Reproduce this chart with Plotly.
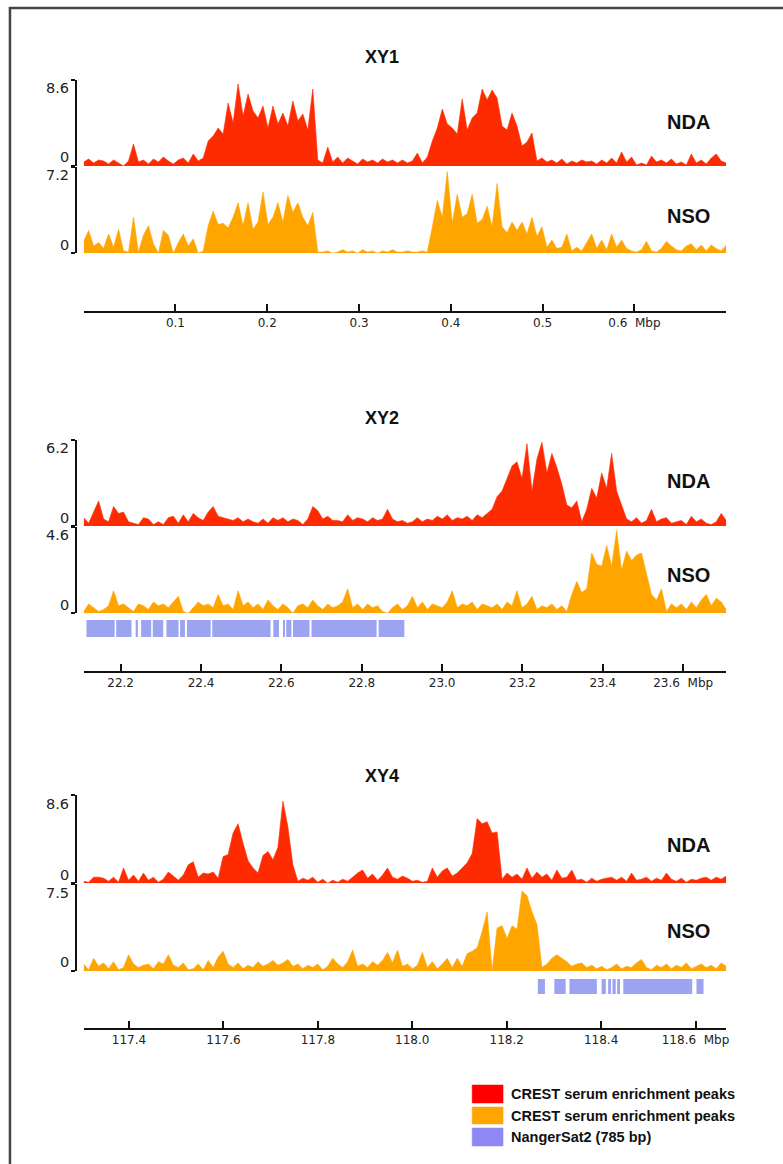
import numpy as np
import plotly.graph_objects as go

W, H = 783, 1164

# ---- genomic windows (Mbp) ----
xy1_range = [0.0, 0.700]
xy2_range = [22.108, 23.707]
xy4_range = [117.304, 118.665]

xy1_tickvals = [0.1, 0.2, 0.3, 0.4, 0.5, 0.6]
xy1_ticktext = ["0.1", "0.2", "0.3", "0.4", "0.5", "0.6\u00a0\u00a0Mbp"]
xy2_tickvals = [22.2, 22.4, 22.6, 22.8, 23.0, 23.2, 23.4, 23.6]
xy2_ticktext = ["22.2", "22.4", "22.6", "22.8", "23.0", "23.2", "23.4", "23.6\u00a0\u00a0Mbp"]
xy4_tickvals = [117.4, 117.6, 117.8, 118.0, 118.2, 118.4, 118.6]
xy4_ticktext = ["117.4", "117.6", "117.8", "118.0", "118.2", "118.4", "118.6\u00a0\u00a0Mbp"]

# track scale maxima
xy1_nda_max, xy1_nso_max = 8.6, 7.2
xy2_nda_max, xy2_nso_max = 6.2, 4.6
xy4_nda_max, xy4_nso_max = 8.6, 7.5

# ---- enrichment signal, evenly spaced bins across each window ----
xy1_nda = [0.4, 0.7, 0.3, 0.6, 0.5, 0.2, 0.6, 0.3, 0.0, 0.5,
           2.2, 0.4, 0.6, 0.2, 0.7, 0.4, 0.9, 0.5, 0.2, 0.6,
           0.8, 0.3, 1.2, 0.5, 0.8, 2.5, 3.0, 3.8, 3.2, 6.3,
           4.3, 8.2, 5.0, 7.2, 5.5, 4.8, 6.0, 3.8, 6.0, 4.2,
           5.3, 4.0, 6.5, 4.5, 5.2, 3.6, 7.7, 0.6, 0.3, 1.9,
           0.4, 0.9, 0.3, 0.8, 0.5, 0.2, 0.7, 0.4, 0.6, 0.3,
           0.7, 0.4, 0.6, 0.3, 0.6, 0.3, 0.5, 1.3, 0.3, 0.9,
           2.5, 3.8, 5.7, 4.2, 3.8, 3.2, 6.7, 3.6, 4.8, 5.3,
           7.7, 6.6, 7.6, 6.8, 4.0, 3.6, 5.3, 4.0, 2.0, 2.4,
           3.3, 0.5, 0.8, 0.4, 0.6, 0.3, 0.7, 0.2, 0.5, 0.3,
           0.6, 0.4, 0.5, 0.2, 0.6, 0.3, 0.8, 0.3, 1.4, 0.4,
           0.9, 0.1, 0.3, 0.1, 1.0, 0.4, 0.6, 0.3, 0.7, 0.2,
           0.4, 0.1, 1.2, 0.3, 0.6, 0.2, 0.8, 1.2, 0.5, 0.3]

xy1_nso = [1.0, 1.9, 0.6, 0.9, 0.4, 1.6, 0.5, 2.0, 0.2, 0.1,
           3.0, 0.1, 1.5, 2.3, 0.8, 0.0, 1.9, 1.5, 0.0, 0.9,
           1.6, 0.6, 1.2, 0.0, 0.2, 2.3, 3.5, 2.4, 2.5, 2.1,
           3.0, 4.2, 2.3, 4.2, 2.0, 2.6, 5.1, 2.4, 3.0, 4.2,
           2.6, 4.8, 3.4, 4.2, 3.0, 2.3, 3.4, 0.1, 0.1, 0.2,
           0.0, 0.1, 0.3, 0.1, 0.2, 0.0, 0.3, 0.1, 0.2, 0.0,
           0.2, 0.1, 0.3, 0.1, 0.1, 0.2, 0.1, 0.1, 0.2, 0.1,
           2.2, 4.4, 3.0, 6.8, 2.5, 4.9, 3.0, 3.3, 4.9, 2.5,
           2.8, 3.9, 2.2, 5.8, 2.2, 1.7, 2.6, 1.9, 2.6, 1.6,
           3.0, 1.4, 2.2, 0.5, 1.1, 0.4, 0.5, 1.6, 0.2, 0.5,
           0.2, 0.9, 1.6, 0.4, 1.1, 0.3, 1.6, 0.5, 1.1, 0.4,
           0.2, 0.1, 0.3, 1.0, 0.2, 0.1, 0.4, 1.0, 0.6, 0.3,
           0.2, 0.6, 0.8, 0.3, 0.7, 0.2, 0.7, 0.4, 0.2, 0.7]

xy2_nda = [0.6, 0.2, 1.0, 1.8, 0.5, 0.3, 1.4, 0.9, 1.0, 0.3,
           0.2, 0.1, 0.6, 0.5, 0.1, 0.3, 0.1, 0.6, 0.7, 0.2,
           0.8, 0.3, 0.9, 0.6, 0.4, 1.0, 1.4, 0.7, 0.6, 0.5,
           0.4, 0.6, 0.3, 0.5, 0.3, 0.2, 0.5, 0.2, 0.6, 0.4,
           0.6, 0.3, 0.5, 0.4, 0.1, 0.5, 1.4, 1.1, 0.5, 0.7,
           0.4, 0.4, 0.3, 0.8, 0.4, 0.6, 0.5, 0.3, 0.6, 0.4,
           0.5, 1.2, 0.5, 0.3, 0.4, 0.2, 0.3, 0.6, 0.3, 0.5,
           0.4, 0.7, 0.5, 0.8, 0.4, 0.6, 0.5, 0.7, 0.4, 0.8,
           0.6, 0.9, 1.2, 2.1, 2.5, 3.4, 4.3, 4.6, 3.4, 5.9,
           2.5, 4.8, 6.0, 3.8, 5.2, 4.2, 3.0, 1.5, 1.3, 1.8,
           0.3, 1.2, 2.7, 2.0, 3.8, 2.7, 5.2, 2.5, 1.5, 0.5,
           0.3, 0.6, 0.2, 0.4, 1.2, 0.3, 0.5, 0.6, 0.2, 0.3,
           0.4, 0.1, 0.7, 0.3, 0.5, 0.2, 0.1, 0.3, 0.9, 0.4]

xy2_nso = [0.1, 0.5, 0.3, 0.1, 0.2, 0.4, 1.2, 0.4, 0.5, 0.3,
           0.1, 0.5, 0.4, 0.2, 0.6, 0.4, 0.5, 0.3, 0.6, 0.9,
           0.1, 0.0, 0.3, 0.6, 0.4, 0.5, 0.3, 1.0, 0.4, 0.5,
           0.2, 1.2, 0.4, 0.6, 0.3, 0.5, 0.2, 0.7, 0.4, 0.2,
           0.5, 0.3, 0.0, 0.4, 0.5, 0.3, 0.7, 0.4, 0.2, 0.5,
           0.3, 0.4, 0.6, 1.3, 0.3, 0.5, 0.2, 0.5, 0.3, 0.4,
           0.1, 0.0, 0.3, 0.5, 0.2, 0.4, 0.9, 0.3, 0.6, 0.2,
           0.5, 0.4, 0.3, 0.6, 1.2, 0.3, 0.5, 0.4, 0.6, 0.2,
           0.5, 0.4, 0.3, 0.5, 0.2, 0.6, 0.4, 1.2, 0.3, 0.5,
           0.9, 0.2, 0.4, 0.3, 0.5, 0.2, 0.4, 0.1, 1.0, 1.7,
           1.1, 1.3, 3.2, 2.6, 2.5, 3.6, 2.5, 4.4, 2.3, 3.3,
           2.8, 3.1, 3.2, 2.1, 1.0, 0.7, 1.3, 0.1, 0.5, 0.3,
           0.5, 0.2, 0.6, 0.3, 0.7, 1.0, 0.4, 0.8, 0.6, 0.2]

xy4_nda = [0.2, 0.1, 0.6, 0.6, 0.5, 0.2, 0.6, 0.1, 1.5, 0.3,
           0.8, 0.2, 1.0, 0.3, 0.6, 0.1, 0.4, 1.1, 0.7, 0.3,
           0.8, 1.8, 2.1, 0.6, 1.0, 0.9, 1.1, 0.5, 2.6, 2.8,
           4.9, 5.8, 3.9, 2.2, 1.5, 1.0, 2.7, 3.1, 2.3, 3.5,
           8.0, 5.5, 1.8, 0.2, 0.5, 0.3, 0.6, 0.1, 0.4, 0.0,
           0.3, 0.1, 0.4, 0.2, 0.6, 1.0, 1.3, 0.5, 0.9, 0.3,
           0.8, 1.5, 0.6, 0.4, 0.7, 0.5, 0.2, 0.3, 0.1, 0.2,
           1.5, 0.6, 1.2, 1.5, 0.7, 1.0, 1.5, 2.0, 2.9, 6.3,
           5.8, 6.0, 4.9, 5.0, 0.4, 1.0, 0.6, 0.9, 0.4, 1.5,
           0.5, 1.1, 0.6, 0.9, 0.3, 1.3, 0.5, 0.6, 1.3, 0.3,
           0.4, 0.1, 0.5, 0.2, 0.4, 0.5, 0.6, 0.3, 0.6, 0.2,
           1.0, 0.3, 0.4, 0.6, 0.2, 0.5, 0.3, 1.0, 0.4, 0.2,
           0.5, 0.1, 0.4, 0.3, 0.5, 0.6, 0.3, 0.6, 0.4, 0.7]

xy4_nso = [0.6, 0.1, 1.1, 0.4, 0.7, 0.2, 0.8, 0.1, 0.3, 1.4,
           0.6, 0.3, 0.5, 0.6, 0.2, 0.8, 0.6, 1.4, 0.5, 0.3,
           0.7, 0.1, 0.2, 0.6, 0.1, 0.9, 0.3, 1.2, 1.7, 0.6,
           0.3, 0.7, 0.2, 0.5, 0.3, 0.8, 0.4, 0.6, 0.9, 0.5,
           0.7, 1.0, 0.4, 0.6, 0.2, 0.5, 0.3, 0.6, 0.1, 0.4,
           1.1, 0.6, 0.3, 0.8, 1.8, 0.4, 0.6, 0.3, 0.8, 0.5,
           0.9, 1.6, 0.7, 1.8, 0.4, 0.6, 0.2, 0.5, 1.6, 0.3,
           0.8, 0.2, 0.6, 1.1, 0.3, 1.1, 0.4, 1.5, 1.7, 2.0,
           3.4, 5.1, 0.0, 3.7, 3.9, 2.8, 3.9, 3.6, 6.9, 6.5,
           5.1, 4.0, 0.3, 0.6, 1.1, 1.4, 1.1, 0.8, 0.4, 0.6,
           0.7, 0.3, 0.5, 0.2, 0.4, 0.1, 0.3, 0.6, 0.2, 0.4,
           0.3, 0.7, 1.0, 0.3, 0.1, 0.5, 0.3, 0.6, 0.2, 0.5,
           0.3, 0.7, 0.2, 0.4, 0.6, 0.3, 0.5, 0.2, 0.7, 0.4]

# ---- NangerSat2 repeat blocks (Mbp) ----
xy2_sat_start = [22.115, 22.189, 22.239, 22.251, 22.280, 22.314, 22.348, 22.365,
                 22.428, 22.580, 22.604, 22.612, 22.629, 22.675, 22.842]
xy2_sat_end = [22.185, 22.227, 22.243, 22.276, 22.306, 22.344, 22.360, 22.424,
               22.573, 22.594, 22.609, 22.625, 22.670, 22.837, 22.906]
xy4_sat_start = [118.266, 118.301, 118.333, 118.401, 118.415, 118.424, 118.434,
                 118.447, 118.589, 118.602]
xy4_sat_end = [118.281, 118.325, 118.391, 118.410, 118.421, 118.431, 118.440,
               118.588, 118.593, 118.617]

panel_titles = ["XY1", "XY2", "XY4"]
track_names = ["NDA", "NSO"]
legend_labels = ["CREST serum enrichment peaks", "CREST serum enrichment peaks",
                 "NangerSat2 (785 bp)"]

NDA_COLOR = "#ff2b00"
NSO_COLOR = "#ffa500"
SAT_COLOR = "#9ca3f0"
LEGEND_COLORS = ["#ff0000", "#ffa500", "#8f88f4"]

TRACK_X0, TRACK_X1 = 84, 729
BRACKET_X = 76
LABEL_INSET = 8.5


def px(x):
    return x / W


def py(y):
    return 1 - y / H


def dom(top, bottom):
    return [py(bottom), py(top)]


fig = go.Figure()
layout = dict(
    width=W, height=H,
    margin=dict(l=0, r=0, t=0, b=0),
    paper_bgcolor="white", plot_bgcolor="white",
    showlegend=False, barmode="overlay",
)

panels = [
    dict(rng=xy1_range, tv=xy1_tickvals, tt=xy1_ticktext, axis_y=312,
         title_y=57,
         tracks=[(xy1_nda, xy1_nda_max, 80, 166, NDA_COLOR),
                 (xy1_nso, xy1_nso_max, 166.7, 253.3, NSO_COLOR)],
         name_y=[122.5, 215.5], sat=None),
    dict(rng=xy2_range, tv=xy2_tickvals, tt=xy2_ticktext, axis_y=671.7,
         title_y=418,
         tracks=[(xy2_nda, xy2_nda_max, 439.5, 526, NDA_COLOR),
                 (xy2_nso, xy2_nso_max, 526.7, 613.3, NSO_COLOR)],
         name_y=[481, 574.5], sat=(xy2_sat_start, xy2_sat_end, 620, 637)),
    dict(rng=xy4_range, tv=xy4_tickvals, tt=xy4_ticktext, axis_y=1029,
         title_y=776,
         tracks=[(xy4_nda, xy4_nda_max, 795, 883.3, NDA_COLOR),
                 (xy4_nso, xy4_nso_max, 884, 971, NSO_COLOR)],
         name_y=[845, 931], sat=(xy4_sat_start, xy4_sat_end, 979, 994)),
]

annotations = []
shapes = []
yi = 0
for pi, p in enumerate(panels):
    xname = "x" if pi == 0 else f"x{pi + 1}"
    xkey = "xaxis" if pi == 0 else f"xaxis{pi + 1}"
    layout[xkey] = dict(
        domain=[px(TRACK_X0), px(TRACK_X1)], range=p["rng"],
        anchor="free", position=py(p["axis_y"]),
        showline=True, linecolor="#111", linewidth=2,
        ticks="inside", ticklen=7, tickwidth=1.5, tickcolor="#111",
        tickvals=p["tv"], ticktext=p["tt"],
        tickfont=dict(family="DejaVu Sans", size=12, color="#222"),
        showgrid=False, zeroline=False, fixedrange=True,
    )
    for ti, (vals, vmax, top, bottom, color) in enumerate(p["tracks"]):
        yi += 1
        yname = "y" if yi == 1 else f"y{yi}"
        ykey = "yaxis" if yi == 1 else f"yaxis{yi}"
        layout[ykey] = dict(
            domain=dom(top, bottom), range=[0, vmax],
            anchor="free", position=px(BRACKET_X), side="left",
            showline=True, linecolor="#111", linewidth=2,
            ticks="outside", ticklen=4, tickwidth=2, tickcolor="#111",
            tickvals=[0, vmax], showticklabels=False,
            showgrid=False, zeroline=False, fixedrange=True,
        )
        xs = np.linspace(p["rng"][0], p["rng"][1], len(vals))
        fig.add_trace(go.Scatter(
            x=xs, y=vals, xaxis=xname, yaxis=yname, mode="lines",
            line=dict(color=color, width=0.6), fill="tozeroy",
            fillcolor=color, hoverinfo="skip",
        ))
        # scale labels, kept inside the bracket
        annotations.append(dict(
            text=f"{vmax:g}", x=px(70), y=py(top + LABEL_INSET), xref="paper",
            yref="paper", xanchor="right", yanchor="middle", showarrow=False,
            height=14, borderpad=0, valign="middle",
            font=dict(family="DejaVu Sans", size=14.5, color="#222")))
        annotations.append(dict(
            text="0", x=px(70), y=py(bottom - LABEL_INSET), xref="paper",
            yref="paper", xanchor="right", yanchor="middle", showarrow=False,
            height=14, borderpad=0, valign="middle",
            font=dict(family="DejaVu Sans", size=14.5, color="#222")))
        annotations.append(dict(
            text=f"<b>{track_names[ti]}</b>", x=px(691), y=py(p["name_y"][ti]),
            xref="paper", yref="paper", xanchor="center", yanchor="middle",
            showarrow=False,
            font=dict(family="Liberation Sans", size=20, color="#111")))
    if p["sat"] is not None:
        s0, s1, top, bottom = p["sat"]
        yi += 1
        yname = f"y{yi}"
        layout[f"yaxis{yi}"] = dict(domain=dom(top, bottom), range=[-0.5, 0.5],
                                    anchor=xname, visible=False, fixedrange=True)
        fig.add_trace(go.Bar(
            y=[0] * len(s0), x=np.subtract(s1, s0), base=s0, orientation="h",
            width=1, xaxis=xname, yaxis=yname,
            marker=dict(color=SAT_COLOR, line=dict(width=0)), hoverinfo="skip",
        ))
    annotations.append(dict(
        text=f"<b>{panel_titles[pi]}</b>", x=px(383), y=py(p["title_y"]),
        xref="paper", yref="paper", xanchor="center", yanchor="middle",
        showarrow=False, font=dict(family="Liberation Sans", size=18, color="#111")))

# legend
legend_rows = [(1085, 1103), (1107, 1124), (1128, 1146)]
for (top, bottom), label, color in zip(legend_rows, legend_labels, LEGEND_COLORS):
    shapes.append(dict(type="rect", xref="paper", yref="paper",
                       x0=px(474), x1=px(505), y0=py(bottom), y1=py(top),
                       fillcolor=color, line=dict(color=color, width=0.5)))
    annotations.append(dict(
        text=f"<b>{label}</b>", x=px(511), y=py((top + bottom) / 2),
        xref="paper", yref="paper", xanchor="left", yanchor="middle",
        showarrow=False, font=dict(family="Liberation Sans", size=14.5, color="#111")))

# outer frame (left and top edges)
shapes.append(dict(type="path", xref="paper", yref="paper",
                   path=f"M {px(10)} {py(H + 5)} L {px(10)} {py(8)} L {px(W + 5)} {py(8)}",
                   line=dict(color="#444", width=2.5)))

layout["annotations"] = annotations
layout["shapes"] = shapes
fig.update_layout(**layout)
fig.write_html("out.html")
